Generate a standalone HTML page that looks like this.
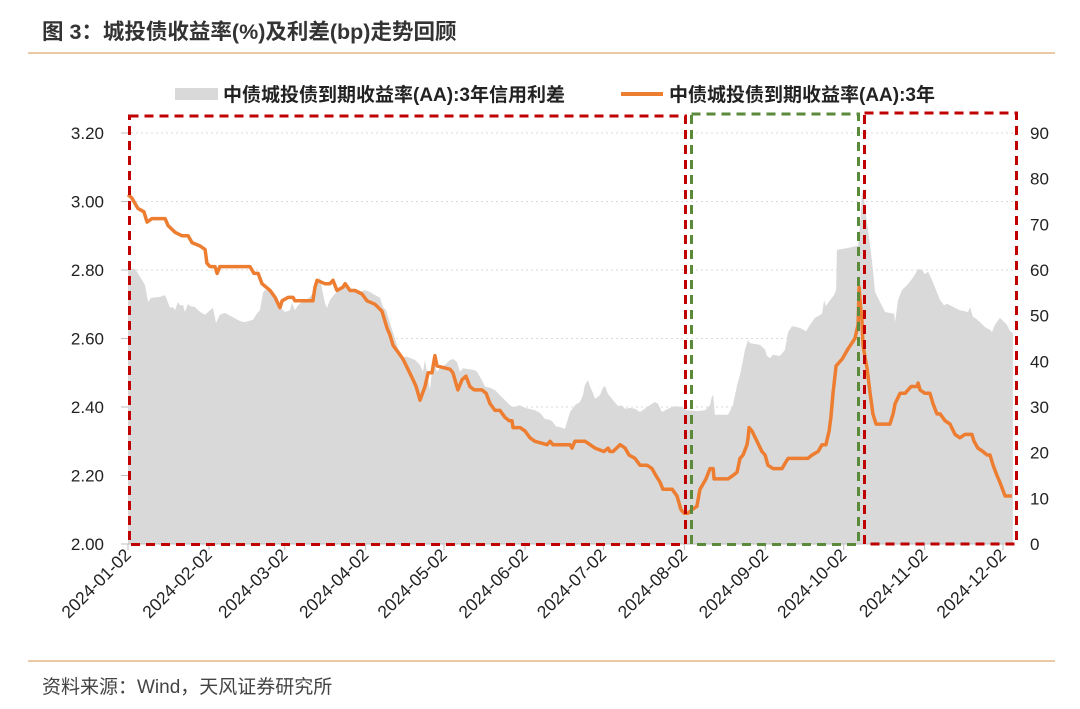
<!DOCTYPE html>
<html><head><meta charset="utf-8"><style>
body{margin:0;background:#fff;}
svg{display:block;font-family:"Liberation Sans","Noto Sans CJK SC",sans-serif;}
</style></head><body>
<svg id="chart" width="1080" height="709" viewBox="0 0 1080 709">
<text x="42" y="39" font-size="21.5" font-weight="bold" fill="#333">图 3：城投债收益率(%)及利差(bp)走势回顾</text>
<line x1="28" y1="53" x2="1055" y2="53" stroke="#e3b987" stroke-width="1.5"/>
<line x1="28" y1="661" x2="1055" y2="661" stroke="#e3b987" stroke-width="1.5"/>
<text x="42" y="693" font-size="19" fill="#444">资料来源：Wind，天风证券研究所</text>
<g>
<rect x="175" y="88" width="43" height="12" fill="#d9d9d9"/>
<text x="223" y="101" font-size="19" font-weight="bold" fill="#222">中债城投债到期收益率(AA):3年信用利差</text>
<line x1="621" y1="94" x2="663" y2="94" stroke="#ed7d31" stroke-width="4"/>
<text x="669" y="101" font-size="19" font-weight="bold" fill="#222">中债城投债到期收益率(AA):3年</text>
</g>
<g id="plot"></g>
</svg>
<script>
const tickDays=[0,31,60,91,121,152,182,213,244,274,305,335];
const tickLabels=["2024-01-02","2024-02-02","2024-03-02","2024-04-02","2024-05-02","2024-06-02","2024-07-02","2024-08-02","2024-09-02","2024-10-02","2024-11-02","2024-12-02"];
const leftTicks=[2.0,2.2,2.4,2.6,2.8,3.0,3.2];
const rightTicks=[0,10,20,30,40,50,60,70,80,90];
const yieldDays=[0,1.5,3.8,6.1,7.3,9.2,12.3,14.2,15.3,18,20.7,23,24.5,27.6,29.5,30.2,31.4,32.5,33.3,34.1,35.2,46.7,48.2,49.8,51.3,54.4,56.3,58.2,59,61.3,63.2,63.9,65.9,69.7,70.8,71.6,72.4,75.4,77.3,78.5,80,82.3,83.1,85,86.9,89.6,91.5,94.6,97.2,98,99.2,100.3,101.5,103.4,105.3,107.2,109.1,110.3,111.8,113.7,114.9,116.4,117.5,118.3,123.3,124.4,126.3,127.9,129.4,130.9,132.5,135.5,137.1,138.6,140.5,142.4,144.3,145.9,147,147.4,150.1,152,153.9,155.8,160.4,161.6,162.7,169.2,170,171.1,175,176.9,178.8,182.2,183.8,184.5,185.7,188.4,190.3,191.8,194.1,196,198.7,200.6,202.1,203.7,204.8,208.3,210.2,211.7,212.9,214.4,215.9,217.8,219,221.3,222.8,224,224.4,226.6,229.7,231.6,233.2,234.3,235.5,237,237.4,237.8,238.9,240.8,242.7,243.9,245,246.9,250.4,251.9,252.7,253.8,255.4,260.3,261.9,264.2,265.7,267.2,268.4,269.1,269.9,271.1,273.4,275.7,278.3,279.5,279.9,280.3,281,281.4,283,284.1,285.2,286.4,287.9,291.7,292.9,293.7,295.6,297.5,299.8,302.1,302.5,303.2,305.1,307,308.2,309.7,310.9,312.8,314.7,316.6,318.5,320.4,323.1,323.9,325.4,327.3,328.9,330,331.2,332.7,333.8,335.8,338.4];
const yieldValues=[3.02,3.01,2.98,2.97,2.94,2.95,2.95,2.95,2.93,2.91,2.90,2.90,2.88,2.87,2.86,2.82,2.81,2.81,2.81,2.79,2.81,2.81,2.79,2.79,2.76,2.74,2.72,2.69,2.71,2.72,2.72,2.71,2.71,2.71,2.71,2.75,2.77,2.76,2.76,2.77,2.74,2.75,2.76,2.74,2.74,2.73,2.71,2.70,2.68,2.66,2.63,2.61,2.58,2.56,2.54,2.51,2.48,2.46,2.42,2.46,2.50,2.50,2.55,2.52,2.51,2.50,2.45,2.48,2.49,2.46,2.45,2.45,2.44,2.41,2.39,2.39,2.37,2.36,2.36,2.34,2.34,2.33,2.31,2.30,2.29,2.30,2.29,2.29,2.28,2.30,2.30,2.29,2.28,2.27,2.28,2.27,2.27,2.29,2.28,2.26,2.25,2.23,2.23,2.22,2.20,2.18,2.16,2.16,2.14,2.10,2.09,2.09,2.10,2.11,2.16,2.19,2.22,2.22,2.19,2.19,2.19,2.20,2.21,2.25,2.26,2.29,2.31,2.34,2.33,2.30,2.27,2.26,2.23,2.22,2.22,2.24,2.25,2.25,2.25,2.25,2.26,2.27,2.29,2.29,2.33,2.37,2.44,2.52,2.54,2.57,2.60,2.64,2.75,2.71,2.65,2.58,2.51,2.44,2.38,2.35,2.35,2.35,2.38,2.41,2.44,2.44,2.46,2.46,2.47,2.45,2.44,2.44,2.41,2.38,2.38,2.36,2.35,2.32,2.31,2.32,2.32,2.30,2.28,2.27,2.26,2.26,2.23,2.20,2.18,2.14,2.14];
const spreadDays=[0,2.7,4.6,6.5,7.7,8.8,12.3,14.2,16.1,17.2,18,19.1,19.9,21.1,21.8,23,23.7,25.6,27.6,29.5,31.4,32.5,33.7,35.2,37.1,42.9,44.8,47.9,49,50.5,51.7,52.4,54.4,55.5,56.3,57.4,60.1,62,62.8,63.9,65.1,66.6,68.1,69.7,71.6,72.7,73.5,74.3,75.4,76.2,77.3,79.2,80.4,81.9,83.1,85,88.8,90.7,92.6,94.6,96.5,97.6,98.8,101.1,103,104.1,106.8,109.9,111.8,112.9,113.7,115.6,116.8,118.3,119.4,121.3,123.3,124.4,125.9,127.1,128.2,132.5,133.6,135.5,136.7,138.6,140.5,142.4,144.3,146.2,147.4,150.1,152,155.8,157.7,159.6,161.5,162.7,163.8,165.4,167.3,169.2,171.1,173,174.2,174.9,176.1,176.8,178,178.8,180.7,181.8,182.6,183.7,185.7,187.6,189.1,190.2,192.1,194.1,196,199.8,201.7,202.9,204.4,207.5,209.4,212.1,213.6,218.2,220.9,222.8,223.6,224,224.7,229.7,231.6,233.2,234.3,236.2,237.4,238.1,242,243.9,244.6,245.8,246.9,249.6,251.5,252.7,254.2,256.1,257.3,259.6,261.1,263,265.7,266.5,267.2,268.8,270.3,271.1,271.4,275.3,279.5,280.6,281,281.8,283.3,284.8,286,287.9,289.8,293.3,293.7,294.8,296.3,298.6,300.5,302.5,304,305.1,306.3,307.8,309,310.9,312.4,313.6,316.6,318.5,321.6,322.4,323.5,324.3,326.2,328.1,330,330.8,331.9,333.8,336.5,337.7,338.8];
const spreadValues=[60.4,60.2,58.5,56.7,53,53.9,54.1,54.5,51.7,51.9,51.2,53,52.3,52.3,50.8,52.6,52.1,51.9,50.8,50.2,51.2,51.7,48.4,50.2,50.6,48.8,48.6,49.1,50.2,51.2,55,55.6,55.6,54.5,53.4,52.3,50.8,51.2,52.8,51.2,52.3,53,53.4,54.1,55.6,57.8,58.3,55.8,52.8,51.7,53.4,54.8,55.4,55.8,56.7,55.6,55.2,55.6,55.2,54.5,53.9,51.9,51.2,46.9,43.6,41,41,40.3,39.2,37.7,40.3,33.7,40.3,37.7,38.5,39.2,40.3,40.5,39.9,37.7,38.5,38.1,37.7,35.9,34.4,34.2,33.7,32.6,31.5,30.4,30,30.4,29.8,29.3,28.7,27.4,27.2,26.7,25.8,25.6,25.2,28.9,30.4,31.1,32.6,34.8,35.9,34.6,33.1,31.8,32.6,34.2,34.6,32.9,31.5,30.2,30.4,29.6,29.8,29.6,28.9,30.4,31.1,30.7,28.9,29.8,30.2,30,29.3,29.1,29.3,30.4,32.4,32.6,28.3,28.3,30.4,34.8,37,42.5,44.7,44,43.6,42.5,41.2,40.7,41.4,41.2,42.5,46.4,47.7,47.5,47.3,46.6,48,49.5,50.4,53.4,52.1,53.4,54.5,55.6,64.4,64.8,65.3,72,77.5,75.3,68.8,62.2,55.2,53,50.8,50.4,48.6,53.4,55.6,56.9,58.3,60.2,60,59.1,59.6,57.8,56.1,53.4,52.3,52.6,51.7,51.2,50.8,51.9,49.7,49.5,48.6,47.5,46.9,46.4,48,49.5,48,46.6,46.2];

const NS="http://www.w3.org/2000/svg";
const plot=document.getElementById('plot');
const X0=128,PXD=2.612,YB=544,YT=133;
const xs=d=>X0+d*PXD;
const yl=v=>YB-(v-2.0)/(3.2-2.0)*(YB-YT);
const yr=v=>YB-v/90*(YB-YT);
function mk(tag,attrs,parent){const e=document.createElementNS(NS,tag);for(const k in attrs)e.setAttribute(k,attrs[k]);(parent||plot).appendChild(e);return e;}

leftTicks.forEach(v=>{
  if(v>2.0){const g=mk('line',{x1:121,x2:1013,y1:yl(v),y2:yl(v),stroke:'#d9d9d9','stroke-dasharray':'2,3'});
  
  }
  const tk=mk('line',{x1:121,x2:128,y1:yl(v),y2:yl(v),stroke:'#bfbfbf'});
  
  
  const t=mk('text',{x:104,y:yl(v)+6,'font-size':17,'text-anchor':'end',fill:'#222'});
  t.textContent=v.toFixed(2);
  
  
});
rightTicks.forEach(v=>{
  const t=mk('text',{x:1030,y:yr(v)+6,'font-size':17,fill:'#222'});
  t.textContent=v;
  
  
});
let d='M'+xs(spreadDays[0])+','+YB;
spreadDays.forEach((dd,i)=>{d+=' L'+xs(dd).toFixed(1)+','+yr(spreadValues[i]).toFixed(1);});
d+=' L'+xs(spreadDays[spreadDays.length-1]).toFixed(1)+','+YB+' Z';
const area=mk('path',{d:d,fill:'#d9d9d9'});


const ax=mk('line',{x1:121,x2:1013,y1:YB,y2:YB,stroke:'#bfbfbf'});


tickDays.forEach((td,i)=>{
  const x=xs(td);
  const tk=mk('line',{x1:x,x2:x,y1:YB,y2:YB+6,stroke:'#bfbfbf'});
  
  
  const t=mk('text',{x:x+4,y:YB+12,'font-size':17.5,'text-anchor':'end',fill:'#222',transform:'rotate(-45 '+(x+4)+' '+(YB+12)+')'});
  t.textContent=tickLabels[i];
  
  
});
const pts=yieldDays.map((dd,i)=>xs(dd).toFixed(1)+','+yl(yieldValues[i]).toFixed(1)).join(' ');
const ln=mk('polyline',{points:pts,fill:'none',stroke:'#ed7d31','stroke-width':3.5,'stroke-linejoin':'round'});


const r1=mk('rect',{x:129.5,y:116,width:556,height:428.5,fill:'none',stroke:'#c00000','stroke-width':3,'stroke-dasharray':'9,6'});


const r2=mk('rect',{x:691.5,y:114,width:167,height:430.5,fill:'none',stroke:'#5a8a3a','stroke-width':3,'stroke-dasharray':'9,6'});


const r3=mk('rect',{x:864.5,y:113,width:152,height:431,fill:'none',stroke:'#c00000','stroke-width':3,'stroke-dasharray':'9,6'});


</script>
</body></html>
